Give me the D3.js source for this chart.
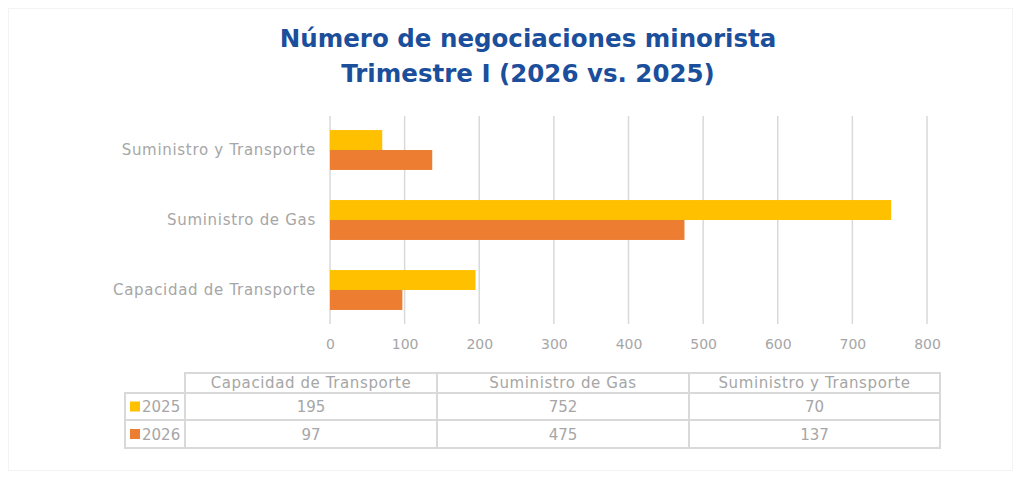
<!DOCTYPE html>
<html>
<head>
<meta charset="utf-8">
<script src="https://cdn.jsdelivr.net/npm/d3@7"></script>
<style>
  body { margin: 0; background: #fff; }
  svg { display: block; font-family: "DejaVu Sans", sans-serif; }
</style>
</head>
<body>
<script>
// data (table order)
var categories = ["Capacidad de Transporte", "Suministro de Gas", "Suministro y Transporte"];
var years = ["2025", "2026"];
var values2025 = [195, 752, 70];
var values2026 = [97, 475, 137];
var xTicks = [0, 100, 200, 300, 400, 500, 600, 700, 800];
var yearColors = ["#FFC000", "#ED7D31"];

var w = 1021, h = 479;

var rows = categories.map(function(c, i) {
    return { cat: c, vals: [values2025[i], values2026[i]] };
});

var svg = d3.select("body").append("svg")
    .attr("width", w)
    .attr("height", h);

// faint frame around the chart
svg.append("rect")
    .attr("x", 8.5).attr("y", 8.5)
    .attr("width", w - 17).attr("height", h - 17)
    .style("fill", "#fff")
    .style("stroke", "#f3f3f3");

// title
var title = svg.append("text")
    .attr("text-anchor", "middle")
    .style("font-weight", "bold")
    .style("font-size", "24.5px")
    .style("fill", "#1B4F9B");
title.append("tspan").attr("x", 528).attr("y", 47).text("Número de negociaciones minorista");
title.append("tspan").attr("x", 528).attr("y", 82).text("Trimestre I (2026 vs. 2025)");

// scales
var x = d3.scaleLinear()
    .domain([0, 800])
    .range([330, 927]);

var y = d3.scaleBand()
    .domain(categories.slice().reverse())
    .range([115, 325])
    .paddingInner(0.43)
    .paddingOuter(0.215);

var ySub = d3.scaleBand()
    .domain(years)
    .range([0, y.bandwidth()]);

// gridlines
svg.append("g").selectAll("line")
    .data(xTicks)
    .enter()
    .append("line")
    .attr("x1", function(d) { return x(d); })
    .attr("x2", function(d) { return x(d); })
    .attr("y1", 116)
    .attr("y2", 324)
    .style("stroke", "#d9d9d9")
    .style("stroke-width", 1.5);

// x axis labels
var xAxis = d3.axisBottom(x).tickValues(xTicks).tickSize(0).tickPadding(0);
var gx = svg.append("g")
    .attr("transform", "translate(0,339)")
    .call(xAxis);
gx.select(".domain").remove();
gx.selectAll("text")
    .style("font-family", "DejaVu Sans, sans-serif")
    .style("font-size", "14px")
    .style("fill", "#a6a6a6");

// bars
var groups = svg.append("g").selectAll("g")
    .data(rows)
    .enter()
    .append("g")
    .attr("transform", function(d) { return "translate(0," + y(d.cat) + ")"; });

groups.selectAll("rect")
    .data(function(d) { return d.vals; })
    .enter()
    .append("rect")
    .attr("x", x(0))
    .attr("y", function(d, i) { return ySub(years[i]); })
    .attr("width", function(d) { return x(d) - x(0); })
    .attr("height", ySub.bandwidth())
    .style("fill", function(d, i) { return yearColors[i]; });

// y axis labels
var yAxis = d3.axisLeft(y).tickSize(0).tickPadding(14);
var gy = svg.append("g")
    .attr("transform", "translate(330,0)")
    .call(yAxis);
gy.select(".domain").remove();
gy.selectAll("text")
    .style("font-family", "DejaVu Sans, sans-serif")
    .style("font-size", "15px")
    .style("letter-spacing", "0.7px")
    .style("fill", "#a6a6a6");

// data table
var colEdges = [185, 437, 689, 940];
var rowEdges = [373, 393, 420, 448];
var legLeft = 125;
var table = svg.append("g");
var gridStyle = function(sel) {
    sel.style("stroke", "#d9d9d9").style("stroke-width", 2).style("fill", "none");
};

// header box
table.append("rect")
    .attr("x", colEdges[0]).attr("y", rowEdges[0])
    .attr("width", colEdges[3] - colEdges[0]).attr("height", rowEdges[1] - rowEdges[0])
    .call(gridStyle);
// body box
table.append("rect")
    .attr("x", legLeft).attr("y", rowEdges[1])
    .attr("width", colEdges[3] - legLeft).attr("height", rowEdges[3] - rowEdges[1])
    .call(gridStyle);
// inner lines
table.selectAll(".vline")
    .data(colEdges.slice(0, 3))
    .enter()
    .append("line")
    .attr("class", "vline")
    .attr("x1", function(d) { return d; }).attr("x2", function(d) { return d; })
    .attr("y1", function(d, i) { return i === 0 ? rowEdges[1] : rowEdges[0]; })
    .attr("y2", rowEdges[3])
    .call(gridStyle);
table.append("line")
    .attr("x1", legLeft).attr("x2", colEdges[3])
    .attr("y1", rowEdges[2]).attr("y2", rowEdges[2])
    .call(gridStyle);

// header labels
table.selectAll(".head")
    .data(categories)
    .enter()
    .append("text")
    .attr("class", "head")
    .attr("x", function(d, i) { return (colEdges[i] + colEdges[i + 1]) / 2; })
    .attr("y", rowEdges[0] + 15)
    .attr("text-anchor", "middle")
    .style("font-size", "15px")
    .style("letter-spacing", "0.6px")
    .style("fill", "#a6a6a6")
    .text(function(d) { return d; });

// value rows
var series = [values2025, values2026];
series.forEach(function(vals, r) {
    var cy = (rowEdges[r + 1] + rowEdges[r + 2]) / 2;
    table.append("rect")
        .attr("x", 130).attr("y", cy - 5)
        .attr("width", 10).attr("height", 10)
        .style("fill", yearColors[r]);
    table.append("text")
        .attr("x", 142).attr("y", cy + 5.5)
        .style("font-size", "15px")
        .style("fill", "#a6a6a6")
        .text(years[r]);
    table.selectAll(".v" + r)
        .data(vals)
        .enter()
        .append("text")
        .attr("class", "v" + r)
        .attr("x", function(d, i) { return (colEdges[i] + colEdges[i + 1]) / 2; })
        .attr("y", cy + 5.5)
        .attr("text-anchor", "middle")
        .style("font-size", "15px")
        .style("fill", "#a6a6a6")
        .text(function(d) { return d; });
});
</script>
</body>
</html>
